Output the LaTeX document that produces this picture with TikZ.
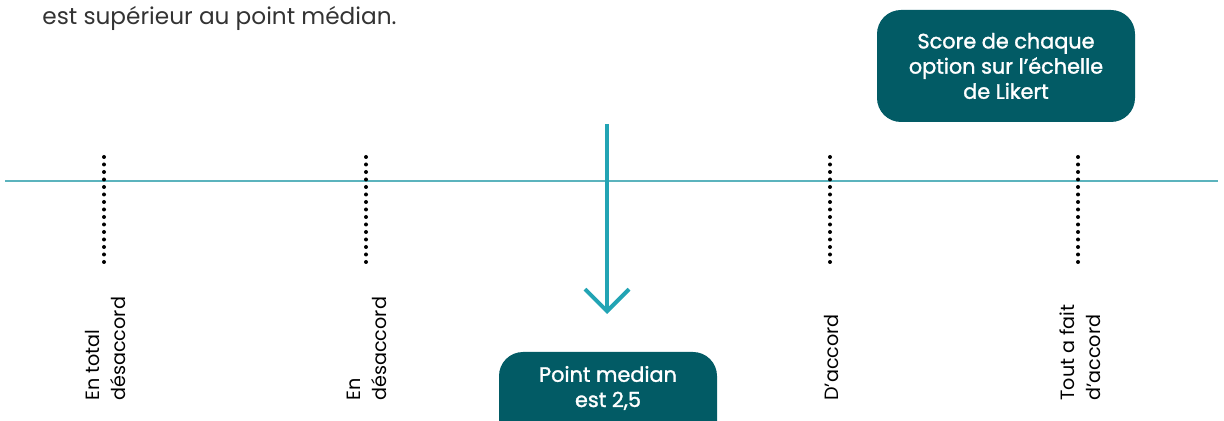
\documentclass[tikz,border=0pt]{standalone}
\usepackage{fontspec}
\setmainfont{Poppins}
\newfontfamily\semib{Poppins}[FakeBold=1.5]
\usetikzlibrary{arrows.meta}
\definecolor{axis}{HTML}{5BB3BD}
\definecolor{arr}{HTML}{22A4B4}
\definecolor{boxc}{HTML}{025B65}
\definecolor{txt}{HTML}{333333}
\tikzset{
  lbl/.style={rotate=90, anchor=west, align=left, font=\fontsize{9.6}{13}\selectfont, inner sep=0pt},
  tick/.style={line width=2pt, dash pattern=on 0pt off 3.75pt, line cap=round, black},
  pill/.style={fill=boxc, rounded corners=12pt, text=white, align=center, font=\semib\fontsize{10.4}{12.6}\selectfont, inner sep=0pt},
}
\begin{document}
\begin{tikzpicture}[x=0.5pt,y=-0.5pt]
\useasboundingbox (0,0) rectangle (1224,421);
\clip (0,0) rectangle (1224,421);
\node[anchor=base west, inner sep=0pt, text=txt, font=\fontsize{11.6}{12}\selectfont] (intro) at (42,25) {est supérieur au point médian.};
\coordinate (La) at (5,181);
\coordinate (Lb) at (1218,181);
\draw[axis, line width=1.4pt] (La) -- (Lb);
\foreach \n/\x in {t1/104,t2/366,t3/830,t4/1078}{
  \coordinate (\n a) at (\x,157);
  \coordinate (\n b) at (\x,269);
  \draw[tick] (\n a) -- (\n b);
}
\node[lbl] (l1) at (105,401) {En total\\désaccord};
\node[lbl] (l2) at (367,401) {En\\désaccord};
\node[lbl] (l3) at (831,401) {D’accord};
\node[lbl] (l4) at (1080,401) {Tout a fait\\d’accord};
\coordinate (As) at (607,124);
\coordinate (Ae) at (607,314);
\draw[arr, line width=2pt, -{Straight Barb[length=11pt, width=22pt, line width=2pt]}] (As) -- (Ae);
\node[pill, minimum width=129pt, minimum height=56pt] (score) at (1006,66) {Score de chaque\\option sur l’échelle\\de Likert};
\fill[boxc, rounded corners=12pt] (499,352) rectangle (717,450);
\node[align=center, text=white, font=\semib\fontsize{10.4}{12.6}\selectfont, inner sep=0pt] (median) at (608,388) {Point median\\est 2,5};
\end{tikzpicture}
\end{document}
